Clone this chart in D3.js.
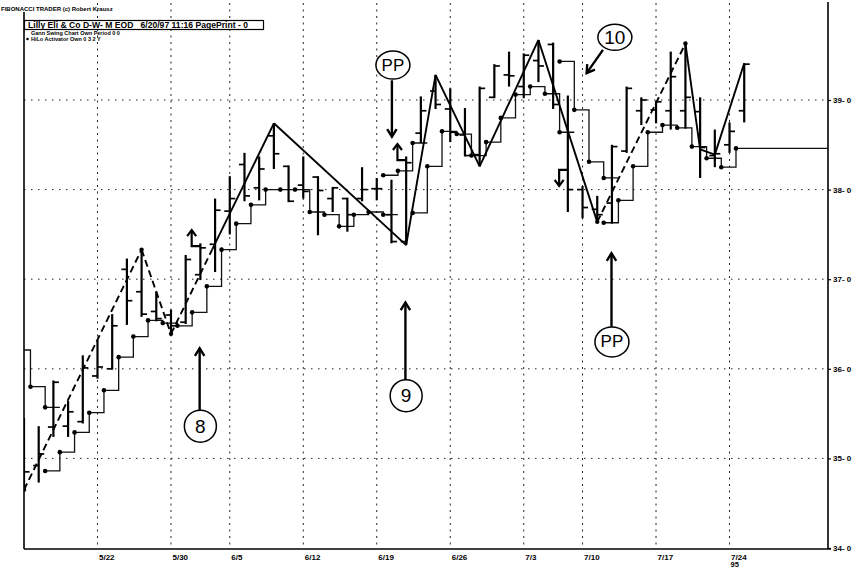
<!DOCTYPE html>
<html>
<head>
<meta charset="utf-8">
<script src="https://cdn.jsdelivr.net/npm/d3@7"></script>
<style>
  html, body { margin: 0; padding: 0; background: #fff; }
  svg { display: block; }
  text { font-family: "Liberation Sans", Arial, sans-serif; }
</style>
</head>
<body>
<svg id="chart" width="866" height="573"></svg>
<script>
// ---- Daily bars, Lilly Eli & Co, May 15 – Jul 25 1995 ----
const dates = ["5/15","5/16","5/17","5/18","5/19","5/22","5/23","5/24","5/25","5/26",
  "5/30","5/31","6/1","6/2","6/5","6/6","6/7","6/8","6/9","6/12",
  "6/13","6/14","6/15","6/16","6/19","6/20","6/21","6/22","6/23","6/26",
  "6/27","6/28","6/29","6/30","7/3","7/5","7/6","7/7","7/10","7/11",
  "7/12","7/13","7/14","7/17","7/18","7/19","7/20","7/21","7/24","7/25"];

const open  = [35.39,34.92,35.35,35.36,35.41,35.92,36.00,37.11,36.86,36.64,
  36.60,36.52,37.05,37.39,37.76,38.28,38.02,38.60,38.26,38.05,
  38.14,37.90,37.90,37.90,38.01,37.72,37.42,38.63,39.10,38.90,
  38.61,38.39,39.03,39.28,39.15,39.44,39.62,38.22,38.00,37.78,
  37.85,38.43,38.88,38.89,38.88,38.88,38.87,38.38,38.50,38.88];
const high  = [35.45,35.36,35.87,35.64,36.15,36.32,36.61,37.23,37.33,36.86,
  36.66,37.27,37.40,37.90,38.15,38.41,38.37,38.74,38.27,38.37,
  38.15,38.03,37.91,38.25,38.13,38.11,38.37,39.04,39.28,39.13,
  38.91,39.15,39.40,39.54,39.52,39.67,39.64,39.05,38.04,37.93,
  38.50,39.15,39.03,38.99,39.54,39.63,39.03,38.67,38.75,39.41];
const low   = [34.65,34.73,35.24,35.24,35.39,35.89,35.99,36.49,36.58,36.53,
  36.39,36.50,36.99,37.08,37.50,37.87,37.88,38.23,37.86,37.90,
  37.49,37.75,37.53,37.87,37.88,37.40,37.38,38.52,38.90,38.53,
  38.37,38.26,39.02,39.15,39.02,39.20,38.90,37.75,37.68,37.64,
  37.62,38.41,38.72,38.74,38.67,38.68,38.13,38.25,38.41,38.75];
const close = [34.85,35.05,35.85,35.52,36.01,36.02,36.48,36.76,36.61,36.56,
  36.48,37.22,37.35,37.77,37.90,37.93,38.23,38.40,37.87,37.98,
  37.99,38.02,37.72,38.00,38.01,37.42,38.30,38.88,38.95,38.64,
  38.38,39.13,39.38,39.27,39.50,39.38,38.95,38.00,37.80,37.72,
  38.48,39.13,39.00,38.98,39.26,39.03,38.47,38.40,38.65,39.40];

// ---- HiLo Activator (sell side / buy side), null where not shown ----
const hiloHighPrev = 36.21;   // value carried in from the bar before 5/15
const hiloHigh = [35.80,35.57,null,null,null,null,null,null,null,null,
  null,null,null,null,null,null,null,null,null,null,
  null,null,null,null,38.16,38.21,38.52,null,null,null,
  null,null,null,null,null,null,39.43,38.89,38.31,38.13,
  null,null,null,null,null,null,null,null,null,null];
const hiloLow = [null,34.86,35.07,35.29,35.51,35.76,36.13,36.36,36.54,36.51,
  36.48,36.63,36.92,37.33,37.62,37.83,38.00,38.00,38.00,37.75,
  37.72,37.59,37.72,37.75,37.72,null,37.74,38.26,38.65,38.62,
  38.38,38.53,38.80,39.06,39.15,39.07,38.64,null,null,37.63,
  37.88,38.26,38.64,38.72,38.69,38.48,38.35,38.25,38.46,null];

// ---- Gann swing chart ----
const swingDays   = [0, 8, 10, 17, 26, 28, 31, 35, 39, 45, 46, 47, 49];
const swingPrices = [34.65, 37.33, 36.39, 38.74, 37.38, 39.28, 38.26, 39.67, 37.64, 39.63, 38.45, 38.39, 39.41];
const swingStyles = ["dash","dash","breakout","solid","solid","solid","solid","solid","dash","solid","solid","solid"];

// ---- Trend-change hooks on the bars ----
const hookDays   = [12, 26, 37];
const hookPrices = [37.37, 38.33, 38.22];
const hookDirs   = ["up", "up", "down"];

// ---- Axis ticks ----
const tickDates  = ["5/22","5/30","6/5","6/12","6/19","6/26","7/3","7/10","7/17","7/24"];
const yearLabel  = "95";
const priceTicks = [34, 35, 36, 37, 38, 39];

// ---- Hand annotations (anchored in day / price units) ----
const notes = [
  { label: "8",  day: 12.0, price: 35.36, rx: 16, ry: 16, arrowFrom: [11.95, 35.54], arrowTo: [11.95, 36.23] },
  { label: "9",  day: 26.0, price: 35.70, rx: 16, ry: 16, arrowFrom: [25.95, 35.875], arrowTo: [25.95, 36.74] },
  { label: "PP", day: 25.1, price: 39.39, rx: 17, ry: 14, arrowFrom: [25.03, 39.22], arrowTo: [25.03, 38.59] },
  { label: "PP", day: 40.0, price: 36.30, rx: 17, ry: 15, arrowFrom: [39.97, 36.47], arrowTo: [39.97, 37.29] },
  { label: "10", day: 40.2, price: 39.70, rx: 17, ry: 13, arrowFrom: [39.39, 39.56], arrowTo: [38.28, 39.30] }
];

// ---------------------------------------------------------------
const svg = d3.select("#chart");
const n = dates.length;
const rightPadDays = 5.7;

const x = d3.scaleLinear().domain([0, n - 1 + rightPadDays]).range([24, 828]);
const y = d3.scaleLinear().domain([34, 40]).range([548, 10.4]);
const [x0, x1] = x.range();
const yBottom = y(34);
const dotOffset = 0.44;           // activator dots sit between bars
const dx = i => x(i + dotOffset);

svg.append("defs").append("clipPath").attr("id", "plotClip")
  .append("rect").attr("x", x0).attr("y", 0).attr("width", x1 - x0).attr("height", yBottom);

// Grid
const grid = svg.append("g").attr("stroke", "#222").attr("stroke-width", 1);
grid.selectAll("line.hg").data(priceTicks.slice(1)).join("line")
  .attr("x1", x0).attr("x2", x1)
  .attr("y1", d => y(d)).attr("y2", d => y(d))
  .attr("stroke-dasharray", "1.5,5.5");
grid.selectAll("line.vg").data(tickDates).join("line")
  .attr("x1", d => x(dates.indexOf(d))).attr("x2", d => x(dates.indexOf(d)))
  .attr("y1", 3).attr("y2", yBottom)
  .attr("stroke-dasharray", "2,4.5");

// Axes
const yAxis = d3.axisRight(y).tickValues(priceTicks).tickSize(3).tickFormat(d => d + "- 0");
const gy = svg.append("g").attr("transform", `translate(${x1},0)`).call(yAxis);
gy.select(".domain").remove();
gy.selectAll(".tick line").attr("stroke", "#000").attr("stroke-width", 1.2);
gy.selectAll(".tick text").attr("x", 5).attr("font-size", 8).attr("font-weight", "bold").attr("fill", "#000");

const xAxis = d3.axisBottom(x).tickValues(tickDates.map(d => dates.indexOf(d))).tickSize(0).tickFormat(i => dates[i]);
const gx = svg.append("g").attr("transform", `translate(0,${yBottom + 1})`).call(xAxis);
gx.select(".domain").remove();
gx.selectAll(".tick text").attr("text-anchor", "start").attr("dy", "0.95em").attr("x", 1)
  .attr("font-size", 8).attr("font-weight", "bold").attr("fill", "#000");
svg.append("text").attr("x", x(dates.indexOf(tickDates[tickDates.length - 1])) + 1).attr("y", yBottom + 19)
  .attr("font-size", 7.5).attr("font-weight", "bold").text(yearLabel);

// Frame lines
const frame = svg.append("g").attr("stroke", "#000").attr("stroke-width", 1.6);
frame.append("line").attr("x1", x0).attr("x2", x0).attr("y1", 12).attr("y2", yBottom + 1);
frame.append("line").attr("x1", x1).attr("x2", x1).attr("y1", 2).attr("y2", yBottom + 1);
frame.append("line").attr("x1", x0).attr("x2", x1 + 3).attr("y1", yBottom + 1).attr("y2", yBottom + 1);

const plot = svg.append("g").attr("clip-path", "url(#plotClip)");

// HiLo activator: step lines with a dot per bar
function runsOf(values, prev) {
  const pts = values.map((v, i) => ({ i, v }));
  if (prev != null) pts.unshift({ i: -1, v: prev });
  const runs = [];
  let cur = [];
  pts.forEach(p => {
    if (p.v == null) { if (cur.length) runs.push(cur); cur = []; }
    else cur.push(p);
  });
  if (cur.length) runs.push(cur);
  return runs;
}
const allRuns = runsOf(hiloHigh, hiloHighPrev).concat(runsOf(hiloLow, null));
const lastEnd = d3.max(allRuns, r => r[r.length - 1].i);
const hilo = plot.append("g");
allRuns.forEach(run => {
  let d = `M${dx(run[0].i)},${y(run[0].v)}`;
  for (let k = 1; k < run.length; k++) d += `H${dx(run[k].i)}V${y(run[k].v)}`;
  const endI = run[run.length - 1].i;
  d += `H${endI === lastEnd ? x1 : dx(endI + 1)}`;
  hilo.append("path").attr("d", d).attr("fill", "none").attr("stroke", "#111").attr("stroke-width", 1.3);
  hilo.selectAll(null).data(run).join("circle")
    .attr("cx", p => dx(p.i)).attr("cy", p => y(p.v)).attr("r", 2.3).attr("fill", "#000");
});

// OHLC bars
const bars = plot.append("g").attr("stroke", "#000");
const idx = d3.range(n);
bars.selectAll("line.range").data(idx).join("line")
  .attr("x1", i => x(i)).attr("x2", i => x(i))
  .attr("y1", i => y(high[i])).attr("y2", i => y(low[i]))
  .attr("stroke-width", 2.2);
bars.selectAll("line.open").data(idx).join("line")
  .attr("x1", i => x(i) - 5.5).attr("x2", i => x(i))
  .attr("y1", i => y(open[i])).attr("y2", i => y(open[i]))
  .attr("stroke-width", 1.7);
bars.selectAll("line.close").data(idx).join("line")
  .attr("x1", i => x(i)).attr("x2", i => x(i) + 5.5)
  .attr("y1", i => y(close[i])).attr("y2", i => y(close[i]))
  .attr("stroke-width", 1.7);

// Gann swing line
const swing = plot.append("g").attr("fill", "none").attr("stroke", "#000").attr("stroke-width", 1.9);
const dash = "7,4";
swingStyles.forEach((style, s) => {
  const a = [x(swingDays[s]), y(swingPrices[s])];
  const b = [x(swingDays[s + 1]), y(swingPrices[s + 1])];
  if (style === "breakout") {
    // dashed until the prior swing high is taken out, solid beyond it
    const level = swingPrices[s - 1];
    const t = (level - swingPrices[s]) / (swingPrices[s + 1] - swingPrices[s]);
    const m = [a[0] + (b[0] - a[0]) * t, a[1] + (b[1] - a[1]) * t];
    swing.append("line").attr("x1", a[0]).attr("y1", a[1]).attr("x2", m[0]).attr("y2", m[1]).attr("stroke-dasharray", dash);
    swing.append("line").attr("x1", m[0]).attr("y1", m[1]).attr("x2", b[0]).attr("y2", b[1]);
  } else {
    swing.append("line").attr("x1", a[0]).attr("y1", a[1]).attr("x2", b[0]).attr("y2", b[1])
      .attr("stroke-dasharray", style === "dash" ? dash : null);
  }
});
swing.selectAll("circle").data(swingDays.filter((d, k) =>
    swingStyles[k] === "dash" || swingStyles[k - 1] === "dash"))
  .join("circle")
  .attr("cx", d => x(d)).attr("cy", d => y(swingPrices[swingDays.indexOf(d)]))
  .attr("r", 2.2).attr("fill", "#000").attr("stroke", "none");

// Trend-change hooks
const hooks = plot.append("g").attr("fill", "none").attr("stroke", "#000").attr("stroke-width", 2.2);
hookDays.forEach((d, k) => {
  const bx = x(d), by = y(hookPrices[k]);
  const ax = bx - 8.7;
  const sgn = hookDirs[k] === "up" ? -1 : 1;
  const tipY = by + sgn * 16;
  hooks.append("path").attr("d", `M${bx},${by}H${ax}V${tipY}`);
  hooks.append("path").attr("d", `M${ax - 4.5},${tipY - sgn * 6}L${ax},${tipY}L${ax + 4.5},${tipY - sgn * 6}`);
});

// Annotations
const ann = svg.append("g");
function arrow(xa, ya, xb, yb) {
  ann.append("line").attr("x1", xa).attr("y1", ya).attr("x2", xb).attr("y2", yb)
    .attr("stroke", "#000").attr("stroke-width", 2.4);
  const ang = Math.atan2(yb - ya, xb - xa);
  const len = 9, spread = 0.55;
  const p1 = [xb - len * Math.cos(ang - spread), yb - len * Math.sin(ang - spread)];
  const p2 = [xb - len * Math.cos(ang + spread), yb - len * Math.sin(ang + spread)];
  ann.append("path").attr("d", `M${p1}L${xb},${yb}L${p2}`)
    .attr("fill", "none").attr("stroke", "#000").attr("stroke-width", 2.4);
}
notes.forEach(nt => {
  const cx = x(nt.day), cy = y(nt.price);
  ann.append("ellipse").attr("cx", cx).attr("cy", cy).attr("rx", nt.rx).attr("ry", nt.ry)
    .attr("fill", "#fff").attr("stroke", "#000").attr("stroke-width", 1.5);
  ann.append("text").attr("x", cx).attr("y", cy).attr("text-anchor", "middle")
    .attr("dominant-baseline", "central").attr("font-size", nt.label === "PP" ? 17 : 19)
    .text(nt.label);
  arrow(x(nt.arrowFrom[0]), y(nt.arrowFrom[1]), x(nt.arrowTo[0]), y(nt.arrowTo[1]));
});

// Header
const head = svg.append("g").attr("fill", "#000");
head.append("text").attr("x", 1).attr("y", 11).attr("font-size", 6).attr("font-weight", "bold")
  .text("FIBONACCI TRADER (c) Robert Krausz");
head.append("rect").attr("x", 24.5).attr("y", 20.5).attr("width", 239).attr("height", 9)
  .attr("fill", "#fff").attr("stroke", "#000").attr("stroke-width", 1.2);
head.append("text").attr("x", 28).attr("y", 28.3).attr("font-size", 8.6).attr("font-weight", "bold")
  .attr("xml:space", "preserve")
  .text("Lilly Eli & Co D-W- M EOD   6/20/97 11:16 PagePrint - 0");
head.append("text").attr("x", 31).attr("y", 34.8).attr("font-size", 5.5).attr("font-weight", "bold")
  .text("Gann Swing Chart Own Period 0 0");
head.append("circle").attr("cx", 27.5).attr("cy", 39).attr("r", 1.3);
head.append("text").attr("x", 31).attr("y", 41).attr("font-size", 5.5).attr("font-weight", "bold")
  .text("HiLo Activator Own 0 3 2 Y");
</script>
</body>
</html>
